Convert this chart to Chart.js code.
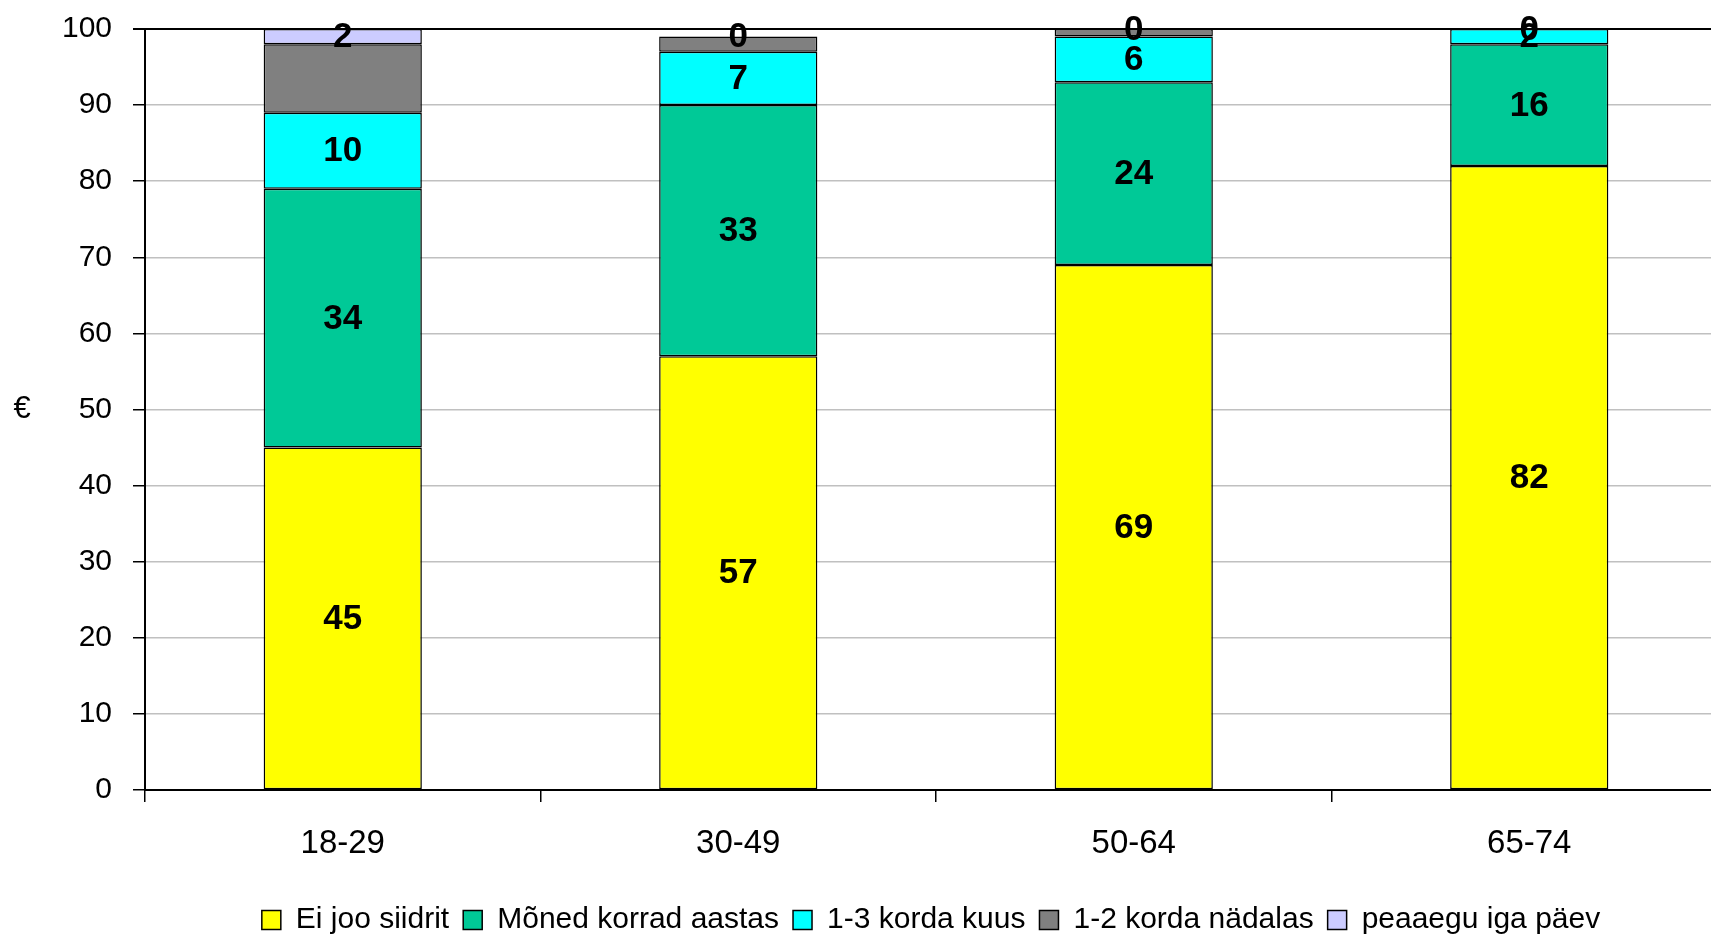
<!doctype html>
<html>
  <head>
    <meta charset="utf-8" />
    <title>Siidri joomine vanuserühmiti</title>
    <script src="https://cdn.jsdelivr.net/npm/chart.js@4.4.1/dist/chart.umd.min.js"></script>
    <style>
html, body {
  margin: 0;
  padding: 0;
  overflow: hidden;
  background: #fff;
}
#wrap {
  width: 1862px;
  height: 955px;
  margin-top: -10px;
}
</style>
  </head>
  <body>
    <div id="wrap"><canvas id="myChart" width="1862" height="955"></canvas></div>
    <script>
      const FONT = '"Liberation Sans", Arial, sans-serif';

      const categories = ['18-29', '30-49', '50-64', '65-74'];
      const eiJoo = [45, 57, 69, 82];
      const monedKorrad = [34, 33, 24, 16];
      const kordaKuus = [10, 7, 6, 2];
      const kordaNadalas = [9, 2, 1, 0];
      const igaPaev = [2, 0, 0, 0];

      const seriesNames = ['Ei joo siidrit', 'Mõned korrad aastas', '1-3 korda kuus', '1-2 korda nädalas', 'peaaegu iga päev'];
      const seriesValues = [eiJoo, monedKorrad, kordaKuus, kordaNadalas, igaPaev];
      const seriesColors = ['#ffff00', '#00c997', '#00ffff', '#808080', '#ccccff'];
      // hall seeria siltideta nagu originaalis
      const showLabels = [true, true, true, false, true];

      const yTicks = [0, 10, 20, 30, 40, 50, 60, 70, 80, 90, 100];

      const data = {
        labels: categories,
        datasets: seriesNames.map((name, i) => ({
          label: name,
          data: seriesValues[i],
          backgroundColor: seriesColors[i],
          borderColor: '#000',
          borderWidth: 1.5,
          borderSkipped: false,
          barPercentage: 0.4,
          categoryPercentage: 1,
        })),
      };

      // numbrid tulpade sees + euro märk vasakul
      const barLabels = {
        id: 'barLabels',
        afterDatasetsDraw(chart) {
          const ctx = chart.ctx;
          ctx.save();
          ctx.font = 'bold 35px ' + FONT;
          ctx.fillStyle = '#000';
          ctx.textAlign = 'center';
          ctx.textBaseline = 'middle';
          chart.data.datasets.forEach((ds, i) => {
            if (!showLabels[i]) return;
            chart.getDatasetMeta(i).data.forEach((el, j) => {
              const p = el.getProps(['x', 'y', 'base'], true);
              ctx.fillText(String(ds.data[j]), p.x, (p.y + p.base) / 2 + 1);
            });
          });
          const y = chart.scales.y;
          ctx.font = '31px ' + FONT;
          ctx.fillText('€', 22, y.getPixelForValue(50));
          ctx.restore();
        }
      };

      const config = {
        type: 'bar',
        data: data,
        options: {
          responsive: false,
          animation: false,
          layout: { padding: { top: 18, left: 0, right: 0, bottom: 0 } },
          plugins: {
            tooltip: { enabled: false },
            legend: {
              position: 'bottom',
              labels: {
                font: { family: FONT, size: 30 },
                color: '#000',
                boxWidth: 19,
                boxHeight: 19,
                padding: 14,
              },
            },
          },
          scales: {
            x: {
              stacked: true,
              grid: {
                drawOnChartArea: false,
                color: '#000',
                tickLength: 12,
                lineWidth: 1.5,
              },
              border: { color: '#000', width: 2 },
              ticks: {
                font: { family: FONT, size: 33 },
                color: '#000',
                padding: 22,
                maxRotation: 0,
              },
              afterFit(s) { s.height = 101; },
            },
            y: {
              stacked: true,
              min: 0,
              max: 100,
              afterBuildTicks(s) { s.ticks = yTicks.map(v => ({ value: v })); },
              grid: {
                color: (c) => (c.tick && c.tick.value === 100 ? '#000' : '#c0c0c0'),
                tickColor: '#000',
                tickLength: 12,
                lineWidth: (c) => (c.tick && c.tick.value === 100 ? 2 : 1.5),
              },
              border: { color: '#000', width: 2 },
              ticks: {
                font: { family: FONT, size: 30 },
                color: '#000',
                padding: 21,
              },
              afterFit(s) { s.width = 145; },
            },
            y2: {
              position: 'right',
              grid: { display: false },
              border: { display: false },
              ticks: { display: false },
              afterFit(s) { s.width = 135; },
            },
          },
        },
        plugins: [barLabels],
      };

      const myChart = new Chart(document.getElementById('myChart'), config);
    </script>
  </body>
</html>
